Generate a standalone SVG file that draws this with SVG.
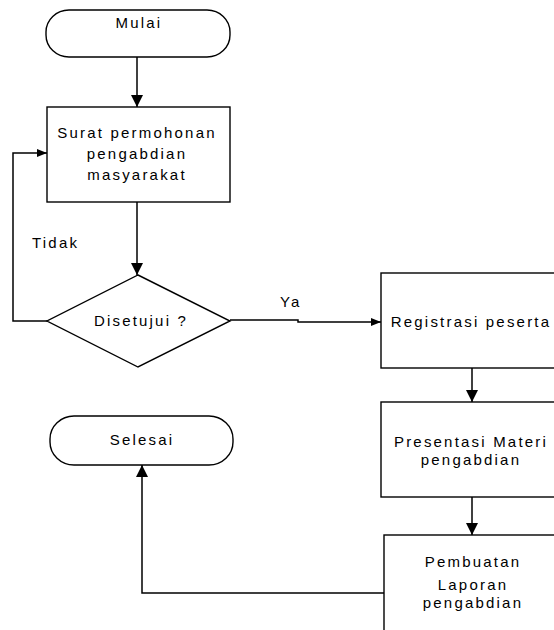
<svg xmlns="http://www.w3.org/2000/svg" width="554" height="630" viewBox="0 0 554 630">
<style>
.shape{fill:#fff;stroke:#000;stroke-width:1.4}
.conn{fill:none;stroke:#000;stroke-width:1.5}
text{font-family:"Liberation Sans",Arial,sans-serif;font-size:15px;letter-spacing:2.2px;fill:#000}
.c{text-anchor:middle}
</style>
<defs>
<marker id="ah" markerUnits="userSpaceOnUse" markerWidth="12" markerHeight="12" refX="12" refY="6" orient="auto">
<path d="M0,0 L12,6 L0,12 z" fill="#000"/>
</marker>
<marker id="ahs" markerUnits="userSpaceOnUse" markerWidth="10" markerHeight="8" refX="10" refY="4" orient="auto">
<path d="M0,0 L10,4 L0,8 z" fill="#000"/>
</marker>
</defs>
<rect width="554" height="630" fill="#fff"/>
<g id="connectors">
<path class="conn" d="M137,57 V107" marker-end="url(#ah)"/>
<path class="conn" d="M137,202 V275" marker-end="url(#ah)"/>
<path class="conn" d="M47,321 H13 V153 H47" marker-end="url(#ahs)"/>
<path class="conn" d="M230,320 H298 V322 H381" marker-end="url(#ahs)"/>
<path class="conn" d="M472,368 V402" marker-end="url(#ah)"/>
<path class="conn" d="M472,497 V535" marker-end="url(#ah)"/>
<path class="conn" d="M384,593 H142 V465" marker-end="url(#ah)"/>
<text x="32" y="248">Tidak</text>
<text x="280" y="307">Ya</text>
</g>
<g id="mulai">
<rect class="shape" x="46" y="10" width="184" height="47" rx="23" ry="22"/>
<text class="c" x="139" y="28">Mulai</text>
</g>
<g id="surat">
<rect class="shape" x="47" y="107" width="183" height="95"/>
<text class="c" x="137" y="138">Surat permohonan</text>
<text class="c" x="137" y="159">pengabdian</text>
<text class="c" x="137" y="180">masyarakat</text>
</g>
<g id="disetujui">
<polygon class="shape" points="138,275 230,321 138,367 47,321"/>
<text class="c" x="141" y="326">Disetujui ?</text>
</g>
<g id="registrasi">
<rect class="shape" x="381" y="273" width="183" height="95"/>
<text class="c" x="471" y="327">Registrasi peserta</text>
</g>
<g id="presentasi">
<rect class="shape" x="381" y="402" width="183" height="95"/>
<text class="c" x="471" y="447">Presentasi Materi</text>
<text class="c" x="471" y="465">pengabdian</text>
</g>
<g id="pembuatan">
<rect class="shape" x="384" y="535" width="180" height="110"/>
<text class="c" x="473" y="567">Pembuatan</text>
<text class="c" x="473" y="590">Laporan</text>
<text class="c" x="473" y="608">pengabdian</text>
</g>
<g id="selesai">
<rect class="shape" x="50" y="416" width="183" height="49" rx="24" ry="23"/>
<text class="c" x="142" y="445">Selesai</text>
</g>
</svg>
